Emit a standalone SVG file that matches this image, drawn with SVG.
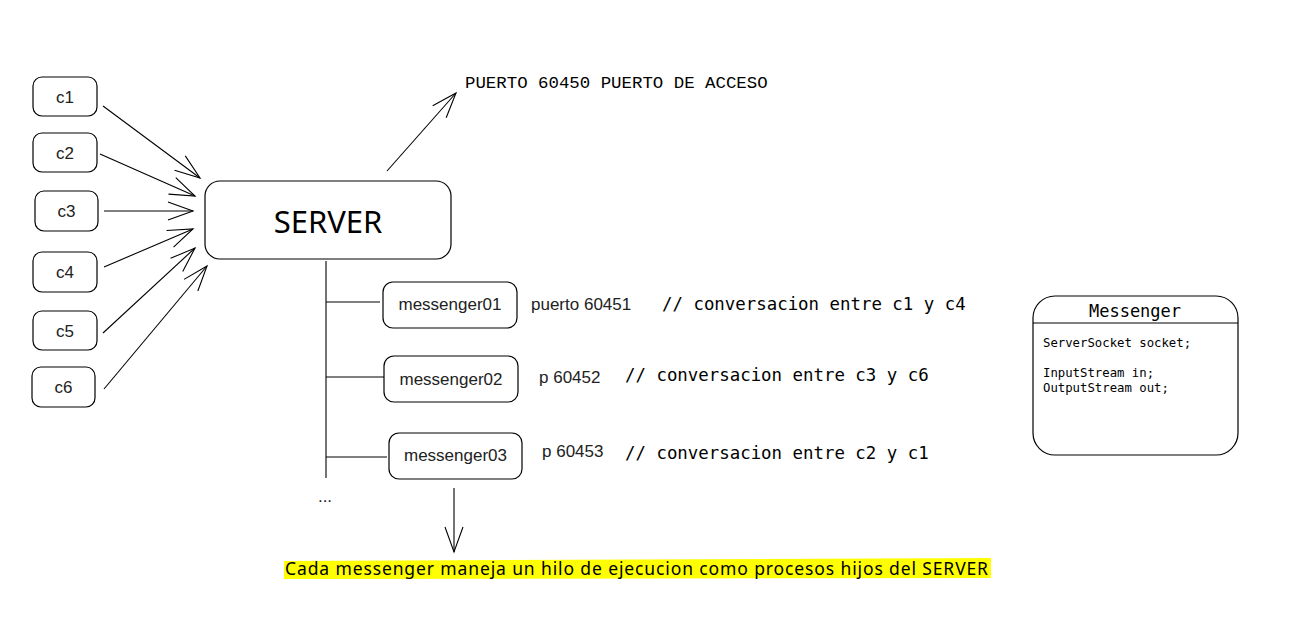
<svg xmlns="http://www.w3.org/2000/svg" width="1303" height="630" viewBox="0 0 1303 630">
  <defs>
    <marker id="open" markerUnits="userSpaceOnUse" markerWidth="30" markerHeight="22" viewBox="-27 -11 30 22" refX="0" refY="0" orient="auto" overflow="visible">
      <path d="M-25,-9 L0,0 L-25,9" fill="none" stroke="#000" stroke-width="1.1"/>
    </marker>
    <style>
      .box{fill:#fff;stroke:#000;stroke-width:1.2}
      .lbl{font-family:"Liberation Sans",Arial,sans-serif;font-size:17px;fill:#222}
      .mono{font-family:"DejaVu Sans Mono",monospace;font-size:17.4px;fill:#000}
      .mono2{font-family:"Liberation Mono",monospace;font-size:17.4px;fill:#000}
      .code{font-family:"DejaVu Sans Mono",monospace;font-size:12.3px;fill:#000}
      .ln{fill:none;stroke:#000;stroke-width:1.1}
      .arr{fill:none;stroke:#000;stroke-width:1.1;marker-end:url(#open)}
    </style>
  </defs>
  <rect width="1303" height="630" fill="#fff"/>

  <g id="connectors">
    <line class="arr" x1="103" y1="106" x2="200" y2="178"/>
    <line class="arr" x1="100" y1="154" x2="195" y2="196"/>
    <line class="arr" x1="104" y1="211" x2="193" y2="211"/>
    <line class="arr" x1="104" y1="267" x2="193" y2="229"/>
    <line class="arr" x1="103" y1="333" x2="195" y2="248"/>
    <line class="arr" x1="104" y1="389" x2="207" y2="266"/>
    <line class="arr" x1="387" y1="171" x2="456" y2="93"/>
    <line class="ln" x1="326" y1="261" x2="326" y2="478"/>
    <line class="ln" x1="326" y1="302" x2="380" y2="302"/>
    <line class="ln" x1="326" y1="377" x2="384" y2="377"/>
    <line class="ln" x1="326" y1="457" x2="387" y2="457"/>
    <line class="arr" x1="454" y1="488" x2="454" y2="552"/>
  </g>

  <g id="c1"><rect class="box" x="33" y="77" width="64" height="39" rx="9"/><text class="lbl" x="65" y="102.5" text-anchor="middle">c1</text></g>
  <g id="c2"><rect class="box" x="33" y="133" width="64" height="39" rx="9"/><text class="lbl" x="65" y="158.5" text-anchor="middle">c2</text></g>
  <g id="c3"><rect class="box" x="35" y="191" width="63" height="40" rx="9"/><text class="lbl" x="66.5" y="217" text-anchor="middle">c3</text></g>
  <g id="c4"><rect class="box" x="33" y="252" width="64" height="40" rx="9"/><text class="lbl" x="65" y="278" text-anchor="middle">c4</text></g>
  <g id="c5"><rect class="box" x="33" y="311" width="64" height="39" rx="9"/><text class="lbl" x="65" y="336.5" text-anchor="middle">c5</text></g>
  <g id="c6"><rect class="box" x="32" y="367" width="63" height="40" rx="9"/><text class="lbl" x="63.5" y="393" text-anchor="middle">c6</text></g>

  <g id="server">
    <rect class="box" x="205" y="181" width="246" height="78" rx="15"/>
    <text x="328" y="233" text-anchor="middle" font-family="'Noto Sans',sans-serif" font-size="31" fill="#000">SERVER</text>
  </g>

  <g id="puerto">
    <text class="mono2" x="465" y="88">PUERTO 60450 PUERTO DE ACCESO</text>
  </g>

  <g id="messenger01">
    <rect class="box" x="383" y="282" width="134" height="46" rx="10"/>
    <text class="lbl" x="450" y="310" text-anchor="middle">messenger01</text>
  </g>
  <g id="messenger02">
    <rect class="box" x="384" y="356" width="134" height="46" rx="10"/>
    <text class="lbl" x="451" y="385" text-anchor="middle">messenger02</text>
  </g>
  <g id="messenger03">
    <rect class="box" x="389" y="433" width="133" height="46" rx="10"/>
    <text class="lbl" x="455.5" y="461" text-anchor="middle">messenger03</text>
  </g>

  <g id="labels">
    <text class="lbl" x="531" y="310">puerto 60451</text>
    <text class="mono" x="662" y="310">// conversacion entre c1 y c4</text>
    <text class="lbl" x="539" y="383">p 60452</text>
    <text class="mono" x="625" y="381">// conversacion entre c3 y c6</text>
    <text class="lbl" x="542" y="457">p 60453</text>
    <text class="mono" x="625" y="459">// conversacion entre c2 y c1</text>
    <text class="lbl" x="325" y="502" text-anchor="middle">...</text>
  </g>

  <g id="messenger-class">
    <rect class="box" x="1033" y="296" width="205" height="159" rx="22"/>
    <line class="ln" x1="1033" y1="323" x2="1238" y2="323"/>
    <text x="1135" y="317" text-anchor="middle" font-family="'DejaVu Sans Mono',monospace" font-size="17" fill="#000">Messenger</text>
    <text class="code" x="1043" y="347">ServerSocket socket;</text>
    <text class="code" x="1043" y="377">InputStream in;</text>
    <text class="code" x="1043" y="392">OutputStream out;</text>
  </g>

  <g id="note">
    <path d="M284,561 L991,558 L991,578 L284,579 Z" fill="#ffff00"/>
    <text x="285" y="575" font-family="'Noto Sans',sans-serif" font-size="17.5" fill="#000" textLength="703" lengthAdjust="spacing">Cada messenger maneja un hilo de ejecucion como procesos hijos del SERVER</text>
  </g>
</svg>
